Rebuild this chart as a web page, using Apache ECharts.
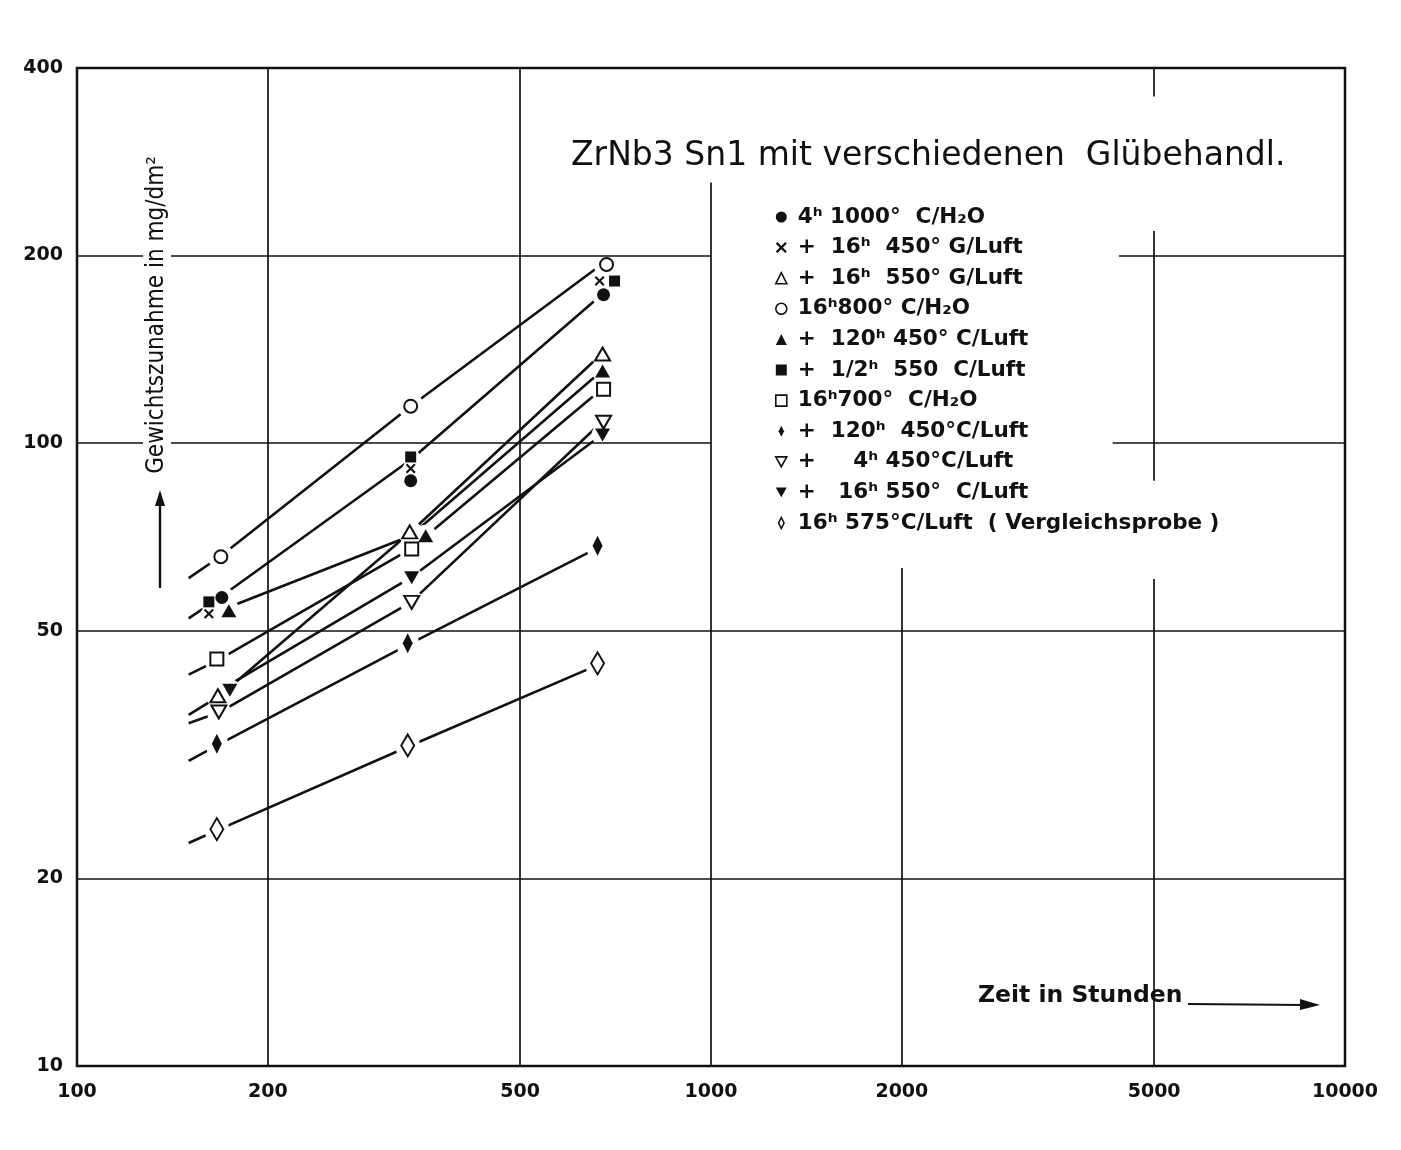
<!DOCTYPE html>
<html>
<head>
<meta charset="utf-8">
<title>ZrNb3 Sn1 mit verschiedenen Glübehandl.</title>
<script src="https://cdn.jsdelivr.net/npm/echarts/dist/echarts.min.js"></script>
<style>
  html, body { margin: 0; padding: 0; background: #ffffff; }
  #chart { width: 1401px; height: 1150px; }
</style>
</head>
<body>
<div id="chart"></div>
<script>
// Test times in hours (1, 2 and 4 weeks)
const hours = [168, 336, 672];

// Weight gain in mg/dm² for each annealing treatment
const gain4h1000   = [56.5, 87, 173];     // ●
const gain16h450G  = [53.2, 91, 182];     // ×
const gain16h550G  = [39.3, 72, 139];     // △
const gain16h800   = [65.7, 114.6, 193.5];// ○
const gain120h450  = [53.8, 71, 130.5];   // ▲
const gainHalf550  = [55.6, 95, 182];     // ■
const gain16h700   = [45.0, 67.6, 122];   // □
const gain120h450b = [32.9, 47.7, 68.4];  // ♦
const gain4h450    = [37.0, 55.5, 108];   // ▽
const gain16h550   = [40.1, 60.8, 103];   // ▼
const gain575      = [24.0, 32.7, 44.3];  // ◇

// Hand-drawn trend lines: lead-in value at 150 h, then values at the test times
const trendHours   = [150, 168, 336, 672];
const trendO       = [60.7, 65.7, 114.6, 193.5];
const trendDot     = [52.3, 56.5, 94, 173];
const trendUp      = [null, 53.8, 71, 130.5];
const trendSq      = [42.5, 45.0, 67.6, 122];
const trendTri     = [36.6, 39.3, 72, 139];
const trendDown    = [null, 40.1, 60.8, 103];
const trendDownO   = [35.5, 37.0, 55.5, 108];
const trendDia     = [30.9, 32.9, 47.7, 68.4];
const trendDiaO    = [22.8, 24.0, 32.7, 44.3];

// Axis tick labels
const xTicks = [100, 200, 500, 1000, 2000, 5000, 10000];
const yTicks = [10, 20, 50, 100, 200, 400];

// Grid rulings (x1, y1, x2, y2 in data units); left open behind the lettering
const gridSegments = [
  [100, 200, 1000, 200], [4400, 200, 10000, 200],
  [100, 100, 1000, 100], [4300, 100, 10000, 100],
  [100, 50, 10000, 50],
  [100, 20, 10000, 20],
  [200, 10, 200, 400],
  [500, 10, 500, 400],
  [1000, 10, 1000, 262],
  [2000, 10, 2000, 63],
  [5000, 10, 5000, 60.5], [5000, 87, 5000, 219], [5000, 360, 5000, 400]
];

const INK = '#111111';
const FONT = 'DejaVu Sans';

const crossPath = 'path://M0,1.5L1.5,0L5,3.5L8.5,0L10,1.5L6.5,5L10,8.5L8.5,10L5,6.5L1.5,10L0,8.5L3.5,5Z';
const tallDiamond = 'path://M5,0L10,10L5,20L0,10Z';
const downTriangle = 'path://M0,0L10,0L5,9Z';

// Marker styles per treatment
const marks = [
  { name: '4ʰ 1000°  C/H₂O',            values: gain4h1000,   symbol: 'circle',   size: 13,      open: false, dx: [2, 0, 2],    halo: 24, icon: 'circle' },
  { name: '+  16ʰ  450° G/Luft',        values: gain16h450G,  symbol: crossPath,  size: 10,      open: false, dx: [-11, 0, -2], halo: 16, icon: crossPath },
  { name: '+  16ʰ  550° G/Luft',        values: gain16h550G,  symbol: 'triangle', size: [15, 13], open: true, dx: [-2, -1, 1],  halo: 24, icon: 'triangle' },
  { name: '16ʰ800° C/H₂O',              values: gain16h800,   symbol: 'circle',   size: 13,      open: true,  dx: [1, 0, 5],    halo: 26, icon: 'circle' },
  { name: '+  120ʰ 450° C/Luft',        values: gain120h450,  symbol: 'triangle', size: [15, 13], open: false, dx: [9, 15, 1], halo: 22, icon: 'triangle' },
  { name: '+  1/2ʰ  550  C/Luft',       values: gainHalf550,  symbol: 'rect',     size: 11,      open: false, dx: [-11, 0, 13], halo: 18, icon: 'rect' },
  { name: '16ʰ700°  C/H₂O',             values: gain16h700,   symbol: 'rect',     size: 13,      open: true,  dx: [-3, 1, 2],   halo: 26, icon: 'rect' },
  { name: '+  120ʰ  450°C/Luft',        values: gain120h450b, symbol: 'diamond',  size: [10, 20], open: false, dx: [-3, -3, -4], halo: [22, 34], icon: tallDiamond },
  { name: '+     4ʰ 450°C/Luft',        values: gain4h450,    symbol: 'triangle', size: [15, 13], open: true, rotate: 180, dx: [-1, 1, 2], halo: 24, icon: downTriangle },
  { name: '+   16ʰ 550°  C/Luft',       values: gain16h550,   symbol: 'triangle', size: [15, 13], open: false, rotate: 180, dx: [10, 1, 1], halo: 22, icon: downTriangle },
  { name: '16ʰ 575°C/Luft  ( Vergleichsprobe )', values: gain575, symbol: 'diamond', size: [13, 22], open: true, dx: [-3, -3, -4], halo: [24, 36], icon: tallDiamond }
];

const trends = [trendO, trendDot, trendUp, trendSq, trendTri, trendDown, trendDownO, trendDia, trendDiaO];

const series = [];

// Trend lines
trends.forEach(function (t, k) {
  const pts = [];
  trendHours.forEach(function (h, i) { if (t[i] !== null) pts.push([h, t[i]]); });
  series.push({
    name: 'trend-' + k, type: 'line', data: pts, showSymbol: false, symbol: 'none',
    silent: true, z: 2, lineStyle: { color: INK, width: 2.6, opacity: 1 }
  });
});

// White clearance around each marker so that the lines stop short of it
marks.forEach(function (m, k) {
  series.push({
    name: 'clear-' + k, type: 'scatter', z: 3, silent: true, clip: false,
    symbol: 'circle', symbolSize: m.halo,
    itemStyle: { color: '#ffffff', opacity: 1 },
    data: hours.map(function (h, i) { return { value: [h, m.values[i]], symbolOffset: [m.dx[i], 0] }; })
  });
});

// Grid rulings
series.push({
  name: 'rulings', type: 'lines', coordinateSystem: 'cartesian2d', polyline: false,
  silent: true, z: 4,
  lineStyle: { color: INK, width: 1.7, opacity: 1 },
  data: gridSegments.map(function (s) { return { coords: [[s[0], s[1]], [s[2], s[3]]] }; })
});

// Measured points
marks.forEach(function (m) {
  series.push({
    name: m.name, type: 'scatter', z: 5, clip: false,
    symbol: m.symbol, symbolSize: m.size, symbolRotate: m.rotate || 0,
    itemStyle: m.open
      ? { color: '#ffffff', borderColor: INK, borderWidth: 2, opacity: 1 }
      : { color: INK, borderWidth: 0, opacity: 1 },
    emphasis: { disabled: true },
    data: hours.map(function (h, i) { return { value: [h, m.values[i]], symbolOffset: [m.dx[i], 0] }; })
  });
});

// Tick labels placed through the log scales
series.push({
  name: 'x-ticks', type: 'scatter', z: 6, silent: true, clip: false, symbolSize: 0,
  itemStyle: { opacity: 1 },
  data: xTicks.map(function (v) { return [v, 10]; }),
  label: {
    show: true, position: 'bottom', distance: 17,
    formatter: function (p) { return String(p.value[0]); },
    fontFamily: FONT, fontWeight: 'bold', fontSize: 19, color: INK, opacity: 1
  }
});
series.push({
  name: 'y-ticks', type: 'scatter', z: 6, silent: true, clip: false, symbolSize: 0,
  itemStyle: { opacity: 1 },
  data: yTicks.map(function (v) { return [100, v]; }),
  label: {
    show: true, position: 'left', distance: 14,
    formatter: function (p) { return String(p.value[1]); },
    fontFamily: FONT, fontWeight: 'bold', fontSize: 19, color: INK, opacity: 1
  }
});

const option = {
  backgroundColor: '#ffffff',
  animation: false,
  title: {
    text: 'ZrNb3 Sn1 mit verschiedenen  Glübehandl.',
    left: 566, top: 135,
    textStyle: { fontFamily: FONT, fontWeight: 'normal', fontSize: 33, color: INK }
  },
  legend: {
    orient: 'vertical', left: 770, top: 201,
    itemWidth: 11, itemHeight: 11, itemGap: 8.6,
    selectedMode: false,
    textStyle: { fontFamily: FONT, fontWeight: 'bold', fontSize: 21.5, lineHeight: 22, color: INK, padding: [0, 0, 0, 6] },
    data: marks.map(function (m) {
      return {
        name: m.name, icon: m.icon,
        itemStyle: m.open
          ? { color: '#ffffff', borderColor: INK, borderWidth: 1.6, opacity: 1 }
          : { color: INK, borderWidth: 0, opacity: 1 }
      };
    })
  },
  grid: {
    left: 77, right: 56, top: 68, bottom: 84,
    show: true, borderColor: INK, borderWidth: 2.5, backgroundColor: 'transparent'
  },
  xAxis: {
    type: 'log', logBase: 10, min: 100, max: 10000,
    axisLine: { show: false }, axisTick: { show: false },
    axisLabel: { show: false }, splitLine: { show: false }
  },
  yAxis: {
    type: 'log', logBase: 10, min: 10, max: 400,
    axisLine: { show: false }, axisTick: { show: false },
    axisLabel: { show: false }, splitLine: { show: false }
  },
  graphic: [
    {
      type: 'text', x: 157, y: 315, rotation: Math.PI / 2, z: 10,
      style: {
        text: 'Gewichtszunahme in mg/dm²', fill: INK,
        font: 'normal 24px "DejaVu Sans Condensed", "DejaVu Sans", sans-serif',
        align: 'center', verticalAlign: 'middle',
        backgroundColor: '#ffffff', padding: [2, 6]
      }
    },
    { type: 'line', z: 10, shape: { x1: 160, y1: 588, x2: 160, y2: 502 }, style: { stroke: INK, lineWidth: 2.4 } },
    { type: 'polygon', z: 10, shape: { points: [[155, 506], [160, 490], [165, 506]] }, style: { fill: INK } },
    {
      type: 'text', x: 978, y: 996, z: 10,
      style: {
        text: 'Zeit in Stunden', fill: INK,
        font: 'bold 23.5px "DejaVu Sans", sans-serif',
        align: 'left', verticalAlign: 'middle'
      }
    },
    { type: 'line', z: 10, shape: { x1: 1188, y1: 1004, x2: 1304, y2: 1005 }, style: { stroke: INK, lineWidth: 2.2 } },
    { type: 'polygon', z: 10, shape: { points: [[1300, 999], [1320, 1005], [1300, 1010]] }, style: { fill: INK } }
  ],
  series: series
};

const chart = echarts.init(document.getElementById('chart'), null, { renderer: 'canvas' });
chart.setOption(option);
</script>
</body>
</html>
